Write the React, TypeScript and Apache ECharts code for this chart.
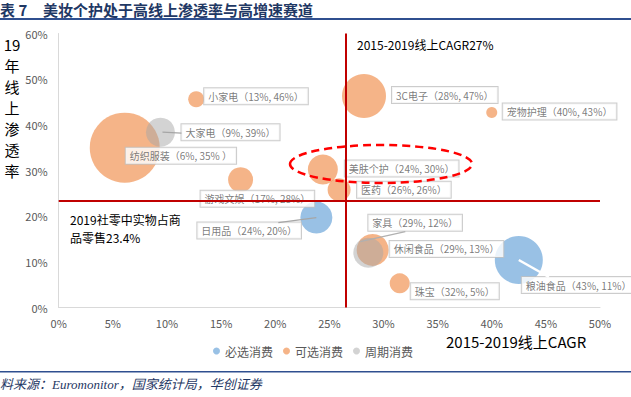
import React, { useEffect, useRef } from "react";
import * as echarts from "echarts";

// ---- data ----
const names = ["小家电", "大家电", "纺织服装", "游戏文娱", "美肤个护", "医药", "3C电子", "宠物护理", "日用品", "家具", "休闲食品", "珠宝", "粮油食品"];
const groups = ["可选消费", "周期消费", "可选消费", "可选消费", "可选消费", "可选消费", "可选消费", "可选消费", "必选消费", "周期消费", "可选消费", "可选消费", "必选消费"];
const cagr = [12.7, 9.4, 6.1, 16.8, 24.4, 25.9, 28.2, 40.0, 23.8, 28.6, 29.0, 31.5, 42.5];
const penetration = [45.6, 38.4, 35.0, 28.0, 30.2, 25.8, 46.3, 42.7, 19.7, 12.0, 12.6, 5.3, 10.4];
const bubbleSize = [16, 29, 70, 25, 30, 23, 44, 11, 32, 30, 32, 20, 48];
const labelTexts = ["小家电（13%, 46%）", "大家电（9%, 39%）", "纺织服装（6%, 35% ）", "游戏文娱（17%, 28%）", "美肤个护（24%, 30%）", "医药（26%, 26%）", "3C电子（28%, 47%）", "宠物护理（40%, 43%）", "日用品（24%, 20%）", "家具（29%, 12%）", "休闲食品（29%, 13%）", "珠宝（32%, 5%）", "粮油食品（43%, 11%）"];
const legendNames = ["必选消费", "可选消费", "周期消费"];
const cagrRefLine = 26.5;
const retailShareLine = 23.4;
const yTitleChars = ["19", "年", "线", "上", "渗", "透", "率"];

// ---- layout / style (not data) ----
const labelOffsets: [number, number][] = [[8, -11], [21, -8], [1, 0], [-40, 11], [22, -9], [18, -8], [28, -9], [11, -9], [-119, 5], [0, -38], [17, -9], [11, 0], [3, 17]];
// leader line [startDx, startDy, endDx, endDy] in px relative to bubble centre (null = none)
const leaderLines: (number[] | null)[] = [null, [2, 0, 21, 1], null, null, null, null, null, null, [0, 0, -38, 5], [-8, -11, 37, -21], null, null, [0, 0, 30, 17]];
const leaderColors = ["", "#A6A6A6", "", "", "", "", "", "", "#A6A6A6", "#B0B0B0", "", "", "#FFFFFF"];
const groupColors: Record<string, string> = {
  "必选消费": "rgba(91,155,213,0.78)",
  "可选消费": "rgba(237,125,49,0.72)",
  "周期消费": "rgba(165,165,165,0.62)",
};
const CJK = "'Noto Sans CJK SC', 'Noto Sans', sans-serif";
const NAVY = "#1F3864";

export default function App() {
  const ref = useRef<HTMLDivElement>(null);
  useEffect(() => {
    const chart = echarts.init(ref.current!, null, { renderer: "svg" });
    const series: any[] = legendNames.map((g, si) => {
      const idxs = names.map((_, i) => i).filter((i) => groups[i] === g);
      const s: any = {
        type: "scatter",
        name: g,
        itemStyle: { color: groupColors[g] },
        data: idxs.map((i) => ({
          name: names[i],
          value: [cagr[i], penetration[i]],
          symbolSize: bubbleSize[i],
          label: { formatter: labelTexts[i] },
        })),
        label: {
          show: true,
          color: "#595959",
          fontSize: 10,
          fontFamily: CJK,
          lineHeight: 12,
          backgroundColor: "#ffffff",
          borderColor: "#BFBFBF",
          borderWidth: 1,
          padding: [2, 4],
        },
        labelLayout: (p: any) => {
          const i = idxs[p.dataIndex];
          const cx = p.rect.x + p.rect.width / 2;
          const cy = p.rect.y + p.rect.height / 2;
          return { x: cx + labelOffsets[i][0], y: cy + labelOffsets[i][1], align: "left", verticalAlign: "top" };
        },
      };
      if (si === 0) {
        s.markLine = {
          silent: true,
          symbol: ["none", "none"],
          label: { show: false },
          lineStyle: { color: "#C00000", width: 2, type: "solid" },
          data: [{ xAxis: cagrRefLine }, { yAxis: retailShareLine }],
        };
      }
      return s;
    });

    const leaderIdx = names.map((_, i) => i).filter((i) => leaderLines[i]);
    series.push({
      type: "custom",
      z: 3,
      silent: true,
      clip: false,
      data: leaderIdx.map((i) => [cagr[i], penetration[i], i]),
      renderItem: (params: any, api: any) => {
        const i = api.value(2);
        const l = leaderLines[i]!;
        const p = api.coord([api.value(0), api.value(1)]);
        return {
          type: "line",
          shape: { x1: p[0] + l[0], y1: p[1] + l[1], x2: p[0] + l[2], y2: p[1] + l[3] },
          style: { stroke: leaderColors[i], lineWidth: i === 12 ? 2.5 : 1.2 },
        };
      },
    });

    chart.setOption({
      animation: false,
      backgroundColor: "#ffffff",
      grid: { left: 58.7, right: 31, top: 33.5, bottom: 89.5 },
      xAxis: {
        type: "value",
        min: 0,
        max: 50,
        interval: 5,
        axisLine: { show: true, lineStyle: { color: "#D9D9D9" } },
        axisTick: { show: false },
        splitLine: { show: false },
        axisLabel: { formatter: "{value}%", color: "#595959", fontSize: 11, fontFamily: CJK, margin: 10 },
      },
      yAxis: {
        type: "value",
        min: 0,
        max: 60,
        interval: 10,
        axisLine: { show: true, lineStyle: { color: "#D9D9D9" } },
        axisTick: { show: false },
        splitLine: { show: false },
        axisLabel: { formatter: "{value}%", color: "#595959", fontSize: 11, fontFamily: CJK, margin: 11 },
      },
      legend: {
        data: legendNames,
        left: 208,
        top: 340,
        icon: "circle",
        itemWidth: 7,
        itemHeight: 7,
        itemGap: 10,
        textStyle: { color: "#595959", fontSize: 12, fontFamily: CJK },
      },
      series,
      graphic: [
        { type: "text", left: 0, top: 2, style: { text: "表 7", fontSize: 15, fontWeight: "bold", fill: NAVY, fontFamily: CJK } },
        { type: "text", left: 43, top: 2, style: { text: "美妆个护处于高线上渗透率与高增速赛道", fontSize: 15, fontWeight: "bold", fill: NAVY, fontFamily: CJK } },
        { type: "rect", shape: { x: 0, y: 18, width: 631, height: 2 }, style: { fill: "#2F4F8F" } },
        { type: "rect", shape: { x: 0, y: 371, width: 631, height: 1.5 }, style: { fill: "#2F4F8F" } },
        { type: "text", left: 0, top: 378, style: { text: "料来源：Euromonitor，国家统计局，华创证券", fontSize: 13, fontStyle: "italic", fill: NAVY, fontFamily: "'Liberation Serif', 'Noto Sans CJK SC', serif" } },
        ...yTitleChars.map((c, k) => ({
          type: "text",
          x: 12,
          y: 44 + k * 21,
          style: { text: c, fontSize: 15, align: "center", verticalAlign: "middle", fill: "#000000", fontFamily: CJK },
        })),
        { type: "text", x: 446, y: 334, style: { text: "2015-2019线上CAGR", fontSize: 15, fill: "#000000", fontFamily: CJK } },
        { type: "text", x: 357, y: 38, style: { text: "2015-2019线上CAGR27%", fontSize: 12, fill: "#000000", fontFamily: CJK } },
        { type: "text", x: 70, y: 213, style: { text: "2019社零中实物占商", fontSize: 12, fill: "#000000", fontFamily: CJK } },
        { type: "text", x: 70, y: 231, style: { text: "品零售23.4%", fontSize: 12, fill: "#000000", fontFamily: CJK } },
        { type: "ellipse", z: 100, shape: { cx: 381, cy: 164, rx: 91, ry: 19 }, style: { fill: "none", stroke: "#FF0000", lineWidth: 2.5, lineDash: [8, 5] } },
      ],
    });
    return () => chart.dispose();
  }, []);
  return <div ref={ref} style={{ position: "fixed", left: 0, top: 0, width: 631, height: 397 }} />;
}
